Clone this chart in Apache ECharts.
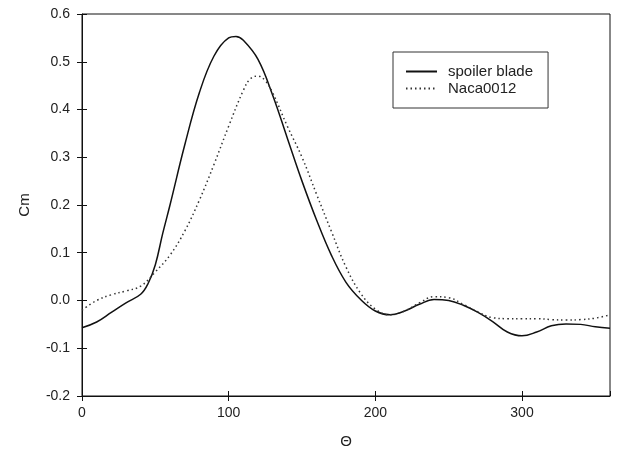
<!DOCTYPE html>
<html><head><meta charset="utf-8">
<script src="https://cdn.jsdelivr.net/npm/echarts@6/dist/echarts.min.js"></script>
<style>html,body{margin:0;padding:0;background:#fff}#c{width:617px;height:454px}</style>
</head><body><div id="c"></div>
<script>
const spoilerX = [0,10,20,30,40,45,50,55,60,70,80,90,100,105,110,120,130,140,150,160,170,180,190,200,210,220,230,240,250,260,270,280,290,300,310,320,330,340,350,360];
const spoilerY = [-0.057,-0.045,-0.025,-0.005,0.013,0.035,0.075,0.14,0.2,0.325,0.435,0.512,0.55,0.553,0.545,0.505,0.43,0.34,0.25,0.168,0.095,0.038,0.002,-0.022,-0.03,-0.022,-0.008,0.002,0.0,-0.01,-0.025,-0.044,-0.066,-0.074,-0.066,-0.053,-0.049,-0.05,-0.055,-0.058];
const nacaX = [0,10,20,30,40,50,60,70,80,90,100,110,115,120,125,130,140,150,160,170,180,190,200,210,220,230,240,250,260,270,280,290,300,310,320,330,340,350,360];
const nacaY = [-0.02,0.0,0.012,0.02,0.03,0.06,0.095,0.145,0.21,0.285,0.365,0.44,0.465,0.47,0.46,0.435,0.365,0.3,0.222,0.145,0.07,0.015,-0.018,-0.03,-0.022,-0.005,0.008,0.006,-0.008,-0.024,-0.036,-0.038,-0.038,-0.038,-0.04,-0.041,-0.04,-0.037,-0.03];
const seriesNames = ['spoiler blade','Naca0012'];
const xTicks = [0,100,200,300];
const yTicks = [-0.2,-0.1,0.0,0.1,0.2,0.3,0.4,0.5,0.6];

const pair = (xs, ys) => xs.map((x,i)=>[x,ys[i]]);
const font = 'Liberation Sans, Arial, sans-serif';
const txt = '#222';
const xBase = {type:'value',min:0,max:360,interval:100,splitLine:{show:false}};
const yBase = {type:'value',min:-0.2,max:0.6,interval:0.1,splitLine:{show:false}};
const chart = echarts.init(document.getElementById('c'), null, {renderer:'canvas'});
chart.setOption({
  animation:false,
  backgroundColor:'#fff',
  grid:{left:82,right:7,top:14,bottom:57,show:true,borderColor:'#111',borderWidth:1,containLabel:false},
  xAxis:[
    Object.assign({},xBase,{
      name:'Θ',nameLocation:'middle',nameGap:38,nameTextStyle:{fontFamily:font,fontSize:15,color:txt},
      axisLine:{show:true,onZero:false,lineStyle:{color:'#111',width:1}},
      axisTick:{show:true,inside:false,length:5,lineStyle:{color:'#111'}},
      axisLabel:{fontFamily:font,fontSize:14,color:txt,margin:10,showMaxLabel:false,
        formatter:v=>xTicks.includes(v)?String(v):''}
    }),
    Object.assign({},xBase,{position:'bottom',
      axisLine:{show:false,onZero:false},
      axisTick:{show:true,inside:true,length:5,lineStyle:{color:'#111'}},
      axisLabel:{show:false}
    })
  ],
  yAxis:[
    Object.assign({},yBase,{
      name:'Cm',nameLocation:'middle',nameGap:50,nameTextStyle:{fontFamily:font,fontSize:15,color:txt},
      axisLine:{show:true,onZero:false,lineStyle:{color:'#111',width:1}},
      axisTick:{show:true,inside:false,length:5,lineStyle:{color:'#111'}},
      axisLabel:{fontFamily:font,fontSize:14,color:txt,margin:12,
        formatter:v=>{const t=yTicks.find(k=>Math.abs(k-v)<1e-9);return t===undefined?'':t.toFixed(1);}}
    }),
    Object.assign({},yBase,{position:'left',
      axisLine:{show:false,onZero:false},
      axisTick:{show:true,inside:true,length:5,lineStyle:{color:'#111'}},
      axisLabel:{show:false}
    })
  ],
  legend:{orient:'vertical',left:393,top:52,
    padding:[11,15,11,12],itemGap:0,itemWidth:31,itemHeight:17,
    borderColor:'#333',borderWidth:1,backgroundColor:'#fff',
    itemStyle:{color:'rgba(0,0,0,0)',borderColor:'rgba(0,0,0,0)',borderWidth:0},
    textStyle:{fontFamily:font,fontSize:15,color:txt,padding:[0,0,0,6],lineHeight:17},
    data:seriesNames,
    selectedMode:false
  },
  series:[
    {name:seriesNames[0],type:'line',data:pair(spoilerX,spoilerY),smooth:0.4,showSymbol:false,symbol:'none',
      lineStyle:{color:'#111',width:1.5,type:'solid'},itemStyle:{color:'#111'}},
    {name:seriesNames[1],type:'line',data:pair(nacaX,nacaY),smooth:0.4,showSymbol:false,symbol:'none',
      lineStyle:{color:'#333',width:1.5,type:[1.5,3]},itemStyle:{color:'#333'}}
  ]
});
</script></body></html>
